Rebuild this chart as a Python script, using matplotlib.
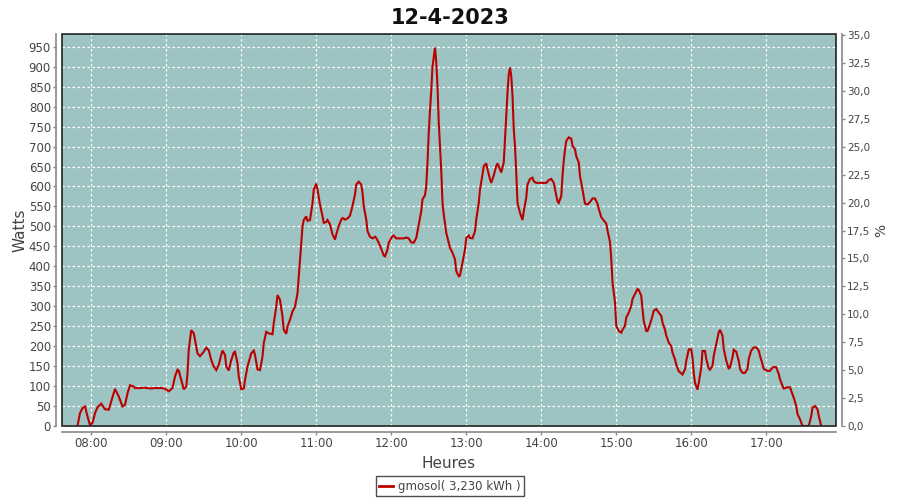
import matplotlib
matplotlib.use("Agg")
import matplotlib.pyplot as plt
from matplotlib.patches import Rectangle
from matplotlib.lines import Line2D

title = "12-4-2023"
series_name = "gmosol( 3,230 kWh )"

times = [
    "07:49", "07:51", "07:53", "07:55", "07:57", "07:59", "08:01", "08:03", "08:05", "08:08",
    "08:11", "08:14", "08:16", "08:19", "08:22", "08:25", "08:27", "08:29", "08:31", "08:34",
    "08:35", "08:39", "08:43", "08:47", "08:51", "08:55", "08:57", "08:59", "09:02", "09:05",
    "09:07", "09:09", "09:10", "09:12", "09:14", "09:16", "09:17", "09:18", "09:20", "09:22",
    "09:23", "09:25", "09:27", "09:30", "09:32", "09:34", "09:36", "09:38", "09:40", "09:42",
    "09:44", "09:45", "09:47", "09:48", "09:50", "09:52", "09:54", "09:55", "09:57", "09:58",
    "10:00", "10:02", "10:03", "10:05", "10:08", "10:10", "10:11", "10:13", "10:15", "10:17",
    "10:18", "10:20", "10:22", "10:25", "10:26", "10:28", "10:29", "10:31", "10:33", "10:34",
    "10:36", "10:37", "10:39", "10:41", "10:43", "10:45", "10:46", "10:47", "10:48", "10:49",
    "10:50", "10:52", "10:53", "10:55", "10:57", "10:58", "11:00", "11:01", "11:03", "11:05",
    "11:06", "11:08", "11:09", "11:11", "11:13", "11:15", "11:16", "11:18", "11:20", "11:21",
    "11:23", "11:25", "11:27", "11:29", "11:31", "11:32", "11:34", "11:36", "11:37", "11:38",
    "11:40", "11:41", "11:43", "11:45", "11:47", "11:48", "11:50", "11:52", "11:54", "11:55",
    "11:57", "11:58", "12:01", "12:02", "12:04", "12:07", "12:10", "12:12", "12:14", "12:16",
    "12:18", "12:20", "12:22", "12:24", "12:25", "12:27", "12:28", "12:29", "12:30", "12:31",
    "12:32", "12:33", "12:34", "12:35", "12:36", "12:37", "12:38", "12:39", "12:40", "12:41",
    "12:42", "12:44", "12:46", "12:47", "12:49", "12:51", "12:52", "12:54", "12:55", "12:57",
    "12:59", "13:00", "13:02", "13:03", "13:05", "13:07", "13:08", "13:10", "13:11", "13:13",
    "13:14", "13:16", "13:17", "13:19", "13:20", "13:22", "13:24", "13:25", "13:27", "13:28",
    "13:30", "13:31", "13:32", "13:33", "13:34", "13:35", "13:36", "13:37", "13:38", "13:39",
    "13:40", "13:41", "13:43", "13:45", "13:46", "13:48", "13:49", "13:51", "13:53", "13:54",
    "13:56", "13:59", "14:04", "14:06", "14:08", "14:10", "14:11", "14:13", "14:14", "14:16",
    "14:17", "14:18", "14:19", "14:20", "14:22", "14:24", "14:25", "14:27", "14:28", "14:30",
    "14:31", "14:33", "14:34", "14:35", "14:37", "14:39", "14:41", "14:43", "14:45", "14:46",
    "14:48", "14:50", "14:52", "14:53", "14:55", "14:56", "14:57", "14:58", "14:59", "15:00",
    "15:02", "15:04", "15:05", "15:07", "15:08", "15:10", "15:12", "15:13", "15:15", "15:17",
    "15:18", "15:20", "15:21", "15:22", "15:24", "15:25", "15:27", "15:29", "15:30", "15:32",
    "15:34", "15:36", "15:37", "15:39", "15:40", "15:42", "15:44", "15:45", "15:47", "15:48",
    "15:50", "15:52", "15:53", "15:55", "15:56", "15:58", "16:00", "16:01", "16:02", "16:03",
    "16:05", "16:06", "16:08", "16:09", "16:11", "16:12", "16:14", "16:15", "16:17", "16:18",
    "16:20", "16:22", "16:23", "16:25", "16:26", "16:28", "16:30", "16:31", "16:33", "16:34",
    "16:36", "16:38", "16:39", "16:41", "16:43", "16:45", "16:46", "16:48", "16:50", "16:52",
    "16:54", "16:55", "16:57", "16:58", "17:01", "17:03", "17:04", "17:06", "17:08", "17:10",
    "17:11", "17:13", "17:14", "17:17", "17:19", "17:20", "17:22", "17:24", "17:25", "17:27",
    "17:29", "17:32", "17:34", "17:36", "17:37", "17:39", "17:41", "17:42", "17:44",
]

watts = [
    0, 32, 45, 49, 24, 2, 8, 32, 47, 56,
    42, 41, 62, 93, 74, 49, 53, 82, 102, 99,
    95, 95, 96, 94, 95, 95, 95, 93, 87, 95,
    124, 141, 139, 116, 92, 99, 132, 191, 240, 232,
    216, 182, 175, 186, 196, 190, 165, 149, 140, 153,
    178, 189, 178, 149, 139, 165, 184, 186, 157, 124,
    92, 94, 115, 149, 182, 189, 178, 142, 140, 174,
    207, 236, 232, 230, 257, 299, 328, 316, 274, 241,
    231, 249, 266, 287, 299, 332, 374, 416, 458, 500,
    516, 525, 514, 516, 558, 592, 607, 592, 555, 526,
    509, 511, 516, 505, 480, 467, 480, 501, 517, 521,
    517, 520, 527, 551, 580, 605, 612, 605, 584, 551,
    517, 488, 474, 470, 474, 471, 459, 444, 427, 425,
    442, 459, 476, 477, 470, 470, 470, 472, 470, 460,
    459, 471, 505, 538, 568, 578, 601, 660, 735, 790,
    840, 900, 925, 948, 911, 852, 760, 700, 640, 560,
    530, 484, 459, 446, 434, 417, 388, 375, 377, 409,
    442, 471, 477, 471, 470, 488, 517, 559, 593, 630,
    651, 658, 643, 618, 609, 628, 651, 658, 643, 635,
    660, 718, 777, 835, 881, 898, 877, 827, 743, 701,
    634, 559, 534, 516, 538, 572, 605, 619, 622, 613,
    609, 609, 609, 616, 619, 609, 593, 563, 559, 576,
    626, 664, 693, 714, 723, 720, 702, 693, 676, 660,
    626, 593, 574, 557, 555, 561, 570, 570, 557, 544,
    523, 515, 507, 490, 461, 419, 360, 335, 310, 251,
    238, 234, 241, 251, 272, 284, 301, 318, 331, 343,
    341, 326, 293, 263, 238, 238, 255, 276, 289, 293,
    284, 276, 259, 241, 227, 209, 200, 184, 167, 154,
    137, 132, 129, 142, 163, 192, 192, 171, 133, 108,
    91, 108, 146, 188, 188, 168, 144, 141, 151, 176,
    205, 235, 241, 226, 193, 164, 143, 147, 172, 191,
    186, 163, 143, 133, 133, 143, 168, 189, 197, 197,
    189, 176, 155, 143, 138, 138, 143, 148, 147, 130,
    117, 101, 94, 97, 97, 88, 71, 50, 30, 17,
    0, 0, 0, 25, 46, 50, 42, 25, 0,
]

x_tick_labels = ["08:00", "09:00", "10:00", "11:00", "12:00",
                 "13:00", "14:00", "15:00", "16:00", "17:00"]
left_ticks = list(range(0, 951, 50))
right_ticks = [0.0, 2.5, 5.0, 7.5, 10.0, 12.5, 15.0, 17.5, 20.0,
               22.5, 25.0, 27.5, 30.0, 32.5, 35.0]


def to_min(s):
    h, m = s.split(":")
    return int(h) * 60 + int(m)


xs = [to_min(t) for t in times]
xt = [to_min(t) for t in x_tick_labels]

BG = "#9ec3c3"
LINE = "#bb0000"
AX = "#888888"
TXT = "#444444"

fig = plt.figure(figsize=(9, 5), dpi=100)
ax = fig.add_axes([62 / 900, 74 / 500, 774 / 900, 392 / 500])
ax.set_facecolor(BG)

ax.plot(xs, watts, color=LINE, linewidth=1.5, solid_joinstyle="miter", zorder=3)

ax.set_xlim(456.6, 1075.8)
ax.set_ylim(0, 982)
ax.set_xticks(xt)
ax.set_xticklabels(x_tick_labels)
ax.set_yticks(left_ticks)
ax.set_yticklabels([str(v) for v in left_ticks])
ax.grid(True, color="white", linestyle=(0, (2, 2)), linewidth=0.9)
ax.set_axisbelow(True)

for s in ["top", "right"]:
    ax.spines[s].set_visible(False)
for s in ["left", "bottom"]:
    ax.spines[s].set_position(("outward", 4))
    ax.spines[s].set_color(AX)
    ax.spines[s].set_linewidth(1.2)
ax.tick_params(axis="both", colors=AX, labelcolor=TXT, labelsize=8.5,
               length=2, width=1, pad=2)

ax.add_patch(Rectangle((0, 0), 1, 1, transform=ax.transAxes, fill=False,
                       edgecolor="#222222", linewidth=1.2, clip_on=False, zorder=5))

ax2 = ax.twinx()
ax2.set_ylim(0, 35.1)
ax2.set_yticks(right_ticks)
ax2.set_yticklabels([f"{v:.1f}".replace(".", ",") for v in right_ticks])
for s in ["top", "left", "bottom"]:
    ax2.spines[s].set_visible(False)
ax2.spines["right"].set_position(("outward", 4))
ax2.spines["right"].set_color(AX)
ax2.spines["right"].set_linewidth(1.2)
ax2.tick_params(axis="y", colors=AX, labelcolor=TXT, labelsize=7.5,
                length=2, width=1, pad=2)
ax2.set_ylabel("%", fontsize=10, color=TXT, labelpad=3)

ax.set_ylabel("Watts", fontsize=11, color=TXT, labelpad=1)
ax.set_xlabel("Heures", fontsize=11, color=TXT, labelpad=4)
fig.suptitle(title, fontsize=15, fontweight="bold", y=0.985, color="#111111")

handle = Line2D([], [], color=LINE, linewidth=2)
leg = fig.legend([handle], [series_name], loc="lower center",
                 bbox_to_anchor=(0.5, 0.0), ncol=1, frameon=True, fancybox=False,
                 fontsize=8.5, handlelength=1.2, handletextpad=0.4,
                 borderpad=0.3, borderaxespad=0.3)
leg.get_frame().set_edgecolor("#222222")
leg.get_frame().set_linewidth(1.0)
for t in leg.get_texts():
    t.set_color(TXT)

fig.savefig("out.png", dpi=100, facecolor="white")
